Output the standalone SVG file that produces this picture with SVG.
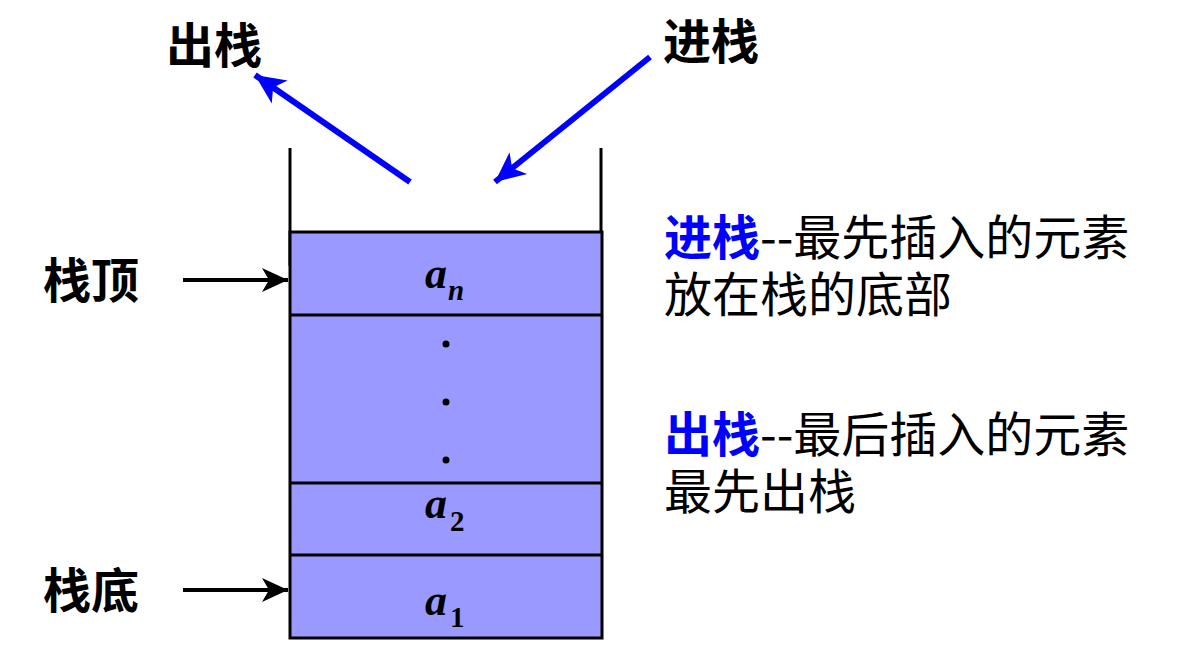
<svg xmlns="http://www.w3.org/2000/svg" width="1186" height="671" viewBox="0 0 1186 671">
<style>
.cjk{font-family:"Noto Sans CJK SC","Noto Sans",sans-serif;}
.lbl{font-size:48px;font-weight:bold;fill:#000;}
.desc{font-size:48px;fill:#000;}
.blue{fill:#0000FF;font-weight:bold;font-size:48px;}
.var{font-family:"Liberation Serif","Times New Roman",serif;font-weight:bold;font-style:italic;fill:#000;}
.sub{font-family:"Liberation Serif","Times New Roman",serif;font-weight:bold;fill:#000;}
.cell{fill:#9999FF;stroke:#000;stroke-width:3;}
.wall{stroke:#000;stroke-width:3;fill:none;}
.blk{stroke:#000;stroke-width:4;fill:none;}
.bl{stroke:#0000FF;stroke-width:6;fill:none;}
</style>
<defs>
<marker id="ah" markerUnits="userSpaceOnUse" markerWidth="30" markerHeight="30" refX="26" refY="12" orient="auto" viewBox="0 0 30 24">
<path d="M0,0 L26,12 L0,24 L7,12 Z" fill="#000"/>
</marker>
<marker id="ahb" markerUnits="userSpaceOnUse" markerWidth="34" markerHeight="34" refX="30" refY="14" orient="auto" viewBox="0 0 34 28">
<path d="M0,0 L30,14 L0,28 L8,14 Z" fill="#0000FF"/>
</marker>
</defs>
<g id="stack">
<line class="wall" x1="290" y1="148" x2="290" y2="266"/>
<line class="wall" x1="601" y1="148" x2="601" y2="266"/>
<rect class="cell" x="290" y="232" width="312" height="406"/>
<line class="wall" x1="290" y1="315" x2="602" y2="315"/>
<line class="wall" x1="290" y1="483" x2="602" y2="483"/>
<line class="wall" x1="290" y1="555" x2="602" y2="555"/>
</g>
<g id="cell-an">
<text x="425" y="288" class="var" font-size="44">a</text>
<text x="448" y="300" class="var" font-size="29">n</text>
</g>
<g id="dots">
<circle cx="446" cy="344" r="3.5" fill="#000"/>
<circle cx="446" cy="402" r="3.5" fill="#000"/>
<circle cx="446" cy="460" r="3.5" fill="#000"/>
</g>
<g id="cell-a2">
<text x="425" y="518" class="var" font-size="44">a</text>
<text x="450" y="531" class="sub" font-size="29">2</text>
</g>
<g id="cell-a1">
<text x="425" y="615" class="var" font-size="44">a</text>
<text x="450" y="627" class="sub" font-size="29">1</text>
</g>
<g id="label-pop"><text x="166" y="63" class="cjk lbl">出栈</text></g>
<g id="label-push"><text x="663" y="59" class="cjk lbl">进栈</text></g>
<g id="label-top"><text x="43" y="298" class="cjk lbl">栈顶</text></g>
<g id="label-bottom"><text x="43" y="608" class="cjk lbl">栈底</text></g>
<g id="desc-push">
<text x="664" y="255" class="cjk blue">进栈</text>
<text x="760" y="255" class="cjk desc">--最先插入的元素</text>
<text x="664" y="312" class="cjk desc">放在栈的底部</text>
</g>
<g id="desc-pop">
<text x="664" y="452" class="cjk blue">出栈</text>
<text x="760" y="452" class="cjk desc">--最后插入的元素</text>
<text x="664" y="509" class="cjk desc">最先出栈</text>
</g>
<g id="connectors">
<line class="blk" x1="183" y1="280" x2="288" y2="280" marker-end="url(#ah)"/>
<line class="blk" x1="183" y1="590" x2="288" y2="590" marker-end="url(#ah)"/>
<line class="bl" x1="410" y1="182" x2="255" y2="75" marker-end="url(#ahb)"/>
<line class="bl" x1="650" y1="57" x2="495" y2="182" marker-end="url(#ahb)"/>
</g>
</svg>
